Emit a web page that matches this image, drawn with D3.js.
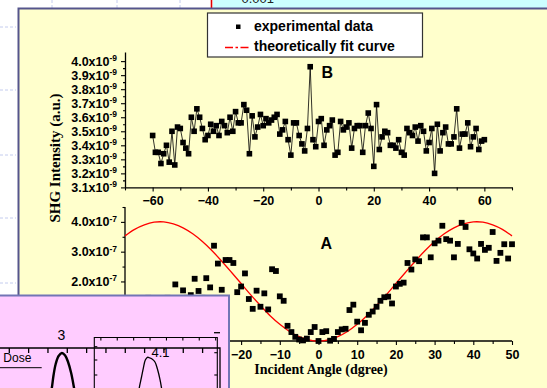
<!DOCTYPE html>
<html>
<head>
<meta charset="utf-8">
<script src="https://cdn.jsdelivr.net/npm/d3@7"></script>
<style>
  html, body { margin: 0; padding: 0; background: #fff; overflow: hidden; }
  svg { display: block; }
</style>
</head>
<body>
<svg id="chart" width="547" height="388"></svg>
<script>
// ---------- data ----------
// Panel B: SHG intensity (x1e-9 a.u.) vs incident angle, -60..60 deg
const anglesB = [-60,-59,-58,-57,-56,-55,-54,-53,-52,-51,-50,-49,-48,-47,-46,-45,-44,-43,-42,-41,
  -40,-39,-38,-37,-36,-35,-34,-33,-32,-31,-30,-29,-28,-27,-26,-25,-24,-23,-22,-21,
  -20,-19,-18,-17,-16,-15,-14,-13,-12,-11,-10,-9,-8,-7,-6,-5,-4,-3,-2,-1,
  0,1,2,3,4,5,6,7,8,9,10,11,12,13,14,15,16,17,18,19,
  20,21,22,23,24,25,26,27,28,29,30,31,32,33,34,35,36,37,38,39,
  40,41,42,43,44,45,46,47,48,49,50,51,52,53,54,55,56,57,58,59,60];
const shgB = [3.47,3.35,3.35,3.27,3.34,3.40,3.28,3.50,3.26,3.53,3.52,3.42,3.38,3.34,3.60,3.50,3.66,3.60,3.52,3.44,
  3.47,3.55,3.50,3.54,3.47,3.57,3.54,3.49,3.60,3.50,3.64,3.56,3.56,3.69,3.65,3.34,3.61,3.46,3.53,3.62,
  3.54,3.59,3.56,3.58,3.60,3.62,3.48,3.51,3.57,3.44,3.33,3.56,3.56,3.47,3.41,3.36,3.52,3.96,3.44,3.39,
  3.57,3.59,3.40,3.51,3.54,3.58,3.33,3.35,3.57,3.51,3.53,3.56,3.38,3.52,3.54,3.54,3.35,3.54,3.63,3.52,
  3.25,3.69,3.37,3.46,3.50,3.49,3.40,3.40,3.38,3.44,3.35,3.33,3.52,3.49,3.47,3.53,3.43,3.54,3.50,3.36,
  3.42,3.52,3.20,3.55,3.36,3.49,3.53,3.41,3.41,3.46,3.66,3.38,3.48,3.48,3.56,3.39,3.46,3.52,3.37,3.43,3.44];

// Panel A: SHG intensity (x1e-7 a.u.) vs incident angle, -50..50 deg
const anglesA = [-50,-49,-48,-47,-46,-45,-44,-43,-42,-41,-40,-39,-38,-37,-36,-35,-34,-33,-32,-31,
  -30,-29,-28,-27,-26,-25,-24,-23,-22,-21,-20,-19,-18,-17,-16,-15,-14,-13,-12,-11,
  -10,-9,-8,-7,-6,-5,-4,-3,-2,-1,0,1,2,3,4,5,6,7,8,9,
  10,11,12,13,14,15,16,17,18,19,20,21,22,23,24,25,26,27,28,29,
  30,31,32,33,34,35,36,37,38,39,40,41,42,43,44,45,46,47,48,49,50];
const shgA = [1.30,1.15,1.40,1.20,1.35,1.10,1.45,1.25,1.30,1.40,1.20,1.45,1.35,1.90,1.40,1.70,1.45,1.54,2.09,1.68,
  1.45,2.11,1.80,3.20,2.60,1.72,2.72,2.72,2.62,1.64,1.83,2.27,1.41,1.08,1.69,1.15,1.60,1.06,2.41,2.35,
  1.50,1.35,0.51,0.30,0.14,0.05,0.02,0.08,0.30,0.47,0.00,0.30,0.33,0.01,0.07,0.30,0.39,0.41,1.04,1.22,
  0.65,0.36,0.61,0.88,0.99,1.15,1.35,1.47,1.49,1.26,1.83,1.92,1.96,2.62,2.40,2.74,2.68,3.48,3.48,2.81,
  3.28,3.37,3.87,3.42,3.37,2.81,3.26,3.97,3.83,3.08,2.94,2.77,3.26,3.06,3.13,3.66,2.69,2.96,3.25,2.77,3.25];

// Theoretical fit for panel A (x1e-7)
const fitAngles = [-50,-47.5,-45,-42.5,-40,-37.5,-35,-32.5,-30,-27.5,-25,-22.5,-20,-17.5,-15,-12.5,-10,-7.5,-5,-2.5,
  0,2.5,5,7.5,10,12.5,15,17.5,20,22.5,25,27.5,30,32.5,35,37.5,40,42.5,45,47.5,50];
const fitA = [3.53,3.75,3.90,3.99,4.00,3.93,3.80,3.60,3.34,3.03,2.68,2.31,1.93,1.55,1.19,0.85,0.56,0.32,0.15,0.04,
  0.00,0.04,0.15,0.32,0.56,0.85,1.19,1.55,1.93,2.31,2.68,3.03,3.34,3.60,3.80,3.93,4.00,3.99,3.90,3.75,3.53];

// tick values
const majorBx = [-60,-40,-20,0,20,40,60];
const minorBx = [-70,-50,-30,-10,10,30,50,70];
const majorBy = [3.1,3.2,3.3,3.4,3.5,3.6,3.7,3.8,3.9,4.0];
const minorBy = [3.15,3.25,3.35,3.45,3.55,3.65,3.75,3.85,3.95];
const labelAx = [-20,-10,0,10,20,30,40,50];       // labelled ticks on panel A
const plainAx = [-50,-40,-30];                    // ticks whose labels sit under the dose panel
const minorAx = [-45,-35,-25,-15,-5,5,15,25,35,45];
const labelAy = [2,3,4];
const plainAy = [1];
const minorAy = [0.5,1.5,2.5,3.5,4.5];

const legendItems = ["experimental data", "theoretically fit curve"];

// dose spectra in the overlapping panel
const dose3U = [2.08,2.20,2.29,2.40,2.55,2.72,2.89,3.04,3.20,3.35,3.46];
const dose3V = [30,42,55,66,74,77,74.5,68,57,42,30];
const dose41U = [2.63,2.74,2.88,2.99,3.11,3.24,3.40,3.52,3.70,3.85,4.01,4.16];
const dose41V = [32.4,45.4,57.3,67.0,75.7,78.6,77.8,76.8,73.5,65.9,54.1,38.9];
const doseLabels = ["3", "4.1"];
const insetTopTicks = [0,1,2,3,4,5,6,7,8,9,10];
const innerTopTicks = [0.4,1.4,2.4,3.4,4.4,5.4,6.4,7.4];

// ---------- drawing ----------
const svg = d3.select("#chart");
const SANS = "'Liberation Sans', Arial, sans-serif";
const SERIF = "'Liberation Serif', 'Times New Roman', serif";
const TICK_FONT = 12.5;

svg.append("rect").attr("width", 547).attr("height", 388).attr("fill", "#fff");

// faint slide marks behind the panel
const faint = svg.append("g").attr("stroke", "#c4ccee").attr("stroke-width", 1).attr("stroke-dasharray", "3,2");
[27, 90, 155, 218, 283].forEach(y => faint.append("line").attr("x1", 0).attr("x2", 16).attr("y1", y).attr("y2", y));
[52, 117, 180].forEach(x => faint.append("line").attr("x1", x).attr("x2", x).attr("y1", 0).attr("y2", 8).attr("stroke-dasharray", null));

// cyan strip at the top right
svg.append("rect").attr("x", 213).attr("y", 0).attr("width", 334).attr("height", 9).attr("fill", "#ccffff");
svg.append("line").attr("x1", 211.5).attr("x2", 211.5).attr("y1", 0).attr("y2", 9).attr("stroke", "#e00000").attr("stroke-width", 1.6);
svg.append("text").attr("x", 241.5).attr("y", 3).attr("font-family", SANS).attr("font-size", 13).attr("fill", "#222").text("0.001");

// main yellow panel
svg.append("rect").attr("x", 18.5).attr("y", 8.5).attr("width", 560).attr("height", 420)
  .attr("fill", "#ffffcc").attr("stroke", "#55558c").attr("stroke-width", 2);

// scales
const xB = d3.scaleLinear().domain([-70, 70]).range([125, 512]);
const yB = d3.scaleLinear().domain([3.1, 4.065]).range([187.4, 52]);
const xA = d3.scaleLinear().domain([-50, 50]).range([125, 512]);
const yA = d3.scaleLinear().domain([0, 4.5]).range([341, 207]);

function styleAxis(g) {
  g.attr("font-family", SANS).attr("font-size", TICK_FONT).attr("font-weight", "bold");
  g.selectAll("path.domain").attr("stroke", "#000").attr("stroke-width", 1.3);
  g.selectAll(".tick line").attr("stroke", "#000").attr("stroke-width", 1.1);
  g.selectAll(".tick text").attr("fill", "#000");
}
function plainTicks(axis, ticks, len, tr) {
  const g = svg.append("g").attr("transform", tr)
    .call(axis.tickValues(ticks).tickSize(len).tickSizeOuter(0).tickFormat(""));
  g.select("path.domain").remove();
  g.selectAll(".tick text").remove();
  g.selectAll(".tick line").attr("stroke", "#000").attr("stroke-width", 1.1);
}
function superLabels(g, exp) {
  g.selectAll(".tick text").each(function(d) {
    const t = d3.select(this);
    t.text(null);
    t.append("tspan").text(d.toFixed(1) + "x10");
    t.append("tspan").attr("dy", -4.5).attr("font-size", 8.5).text(exp);
  });
}

// ---- Panel B ----
const gBx = svg.append("g").attr("transform", "translate(0,187.4)")
  .call(d3.axisBottom(xB).tickValues(majorBx).tickSize(4).tickSizeOuter(0).tickPadding(5).tickFormat(d3.format("d")));
styleAxis(gBx);
plainTicks(d3.axisBottom(xB), minorBx, 3, "translate(0,187.4)");

const gBy = svg.append("g").attr("transform", "translate(125,0)")
  .call(d3.axisLeft(yB).tickValues(majorBy).tickSize(4).tickSizeOuter(0).tickPadding(4));
styleAxis(gBy);
superLabels(gBy, "-9");
plainTicks(d3.axisLeft(yB), minorBy, 2, "translate(125,0)");

const ptsB = anglesB.map((a, i) => [a, shgB[i]]);
svg.append("path").datum(ptsB)
  .attr("d", d3.line().x(d => xB(d[0])).y(d => yB(d[1])))
  .attr("fill", "none").attr("stroke", "#000").attr("stroke-width", 0.8);
svg.append("g").selectAll("rect").data(ptsB).join("rect")
  .attr("x", d => xB(d[0]) - 2.8).attr("y", d => yB(d[1]) - 2.8)
  .attr("width", 5.6).attr("height", 5.6).attr("fill", "#000");

svg.append("text").attr("x", 321.5).attr("y", 78).attr("font-family", SANS)
  .attr("font-size", 16).attr("font-weight", "bold").text("B");

// ---- Panel A ----
const gAx = svg.append("g").attr("transform", "translate(0,341)")
  .call(d3.axisBottom(xA).tickValues(labelAx).tickSize(4).tickSizeOuter(0).tickPadding(5).tickFormat(d3.format("d")));
styleAxis(gAx);
gAx.select("path.domain").attr("d", `M${xA(-50)},0H${xA(50)}`);
plainTicks(d3.axisBottom(xA), plainAx, 4, "translate(0,341)");
plainTicks(d3.axisBottom(xA), minorAx, 3, "translate(0,341)");

const gAy = svg.append("g").attr("transform", "translate(125,0)")
  .call(d3.axisLeft(yA).tickValues(labelAy).tickSize(4).tickSizeOuter(0).tickPadding(4));
styleAxis(gAy);
gAy.select("path.domain").attr("d", `M0,${yA(4.5)}V${yA(0)}`);
superLabels(gAy, "-7");
plainTicks(d3.axisLeft(yA), plainAy, 4, "translate(125,0)");
plainTicks(d3.axisLeft(yA), minorAy, 2.5, "translate(125,0)");

const fitPts = fitAngles.map((a, i) => [a, fitA[i]]);
svg.append("path").datum(fitPts)
  .attr("d", d3.line().curve(d3.curveCatmullRom).x(d => xA(d[0])).y(d => yA(d[1])))
  .attr("fill", "none").attr("stroke", "#ff0000").attr("stroke-width", 1.3);

const ptsA = anglesA.map((a, i) => [a, shgA[i]]);
svg.append("g").selectAll("rect").data(ptsA).join("rect")
  .attr("x", d => xA(d[0]) - 2.9).attr("y", d => yA(d[1]) - 2.9)
  .attr("width", 5.8).attr("height", 5.8).attr("fill", "#000");

svg.append("text").attr("x", 320.5).attr("y", 249).attr("font-family", SANS)
  .attr("font-size", 16).attr("font-weight", "bold").text("A");

// axis titles
svg.append("text").attr("x", 321).attr("y", 374).attr("text-anchor", "middle")
  .attr("font-family", SERIF).attr("font-size", 14).attr("font-weight", "bold")
  .text("Incident Angle (dgree)");
svg.append("text").attr("transform", "translate(60,158) rotate(-90)").attr("text-anchor", "middle")
  .attr("font-family", SERIF).attr("font-size", 15).attr("font-weight", "bold")
  .text("SHG Intensity (a.u.)");

// ---- legend ----
const lg = svg.append("g");
lg.append("rect").attr("x", 207.5).attr("y", 13).attr("width", 215).attr("height", 44)
  .attr("fill", "#fff").attr("stroke", "#333").attr("stroke-width", 1.2);
lg.append("rect").attr("x", 236).attr("y", 24.5).attr("width", 4.5).attr("height", 4.5).attr("fill", "#000");
lg.append("path").attr("d", "M225,47.5H251")
  .attr("fill", "none").attr("stroke", "#ff0000").attr("stroke-width", 1.4).attr("stroke-dasharray", "8,2.5,2.5,2.5");
lg.selectAll("text").data(legendItems).join("text")
  .attr("x", 254).attr("y", (d, i) => 31 + i * 19.5)
  .attr("font-family", SANS).attr("font-size", 14).attr("font-weight", "bold").text(d => d);

// ---- overlapping dose panel (bottom left) ----
const ins = svg.append("g");
ins.append("rect").attr("x", -5).attr("y", 295.5).attr("width", 234).attr("height", 100)
  .attr("fill", "#ffccff").attr("stroke", "#7275b5").attr("stroke-width", 2);

const ix = d3.scaleLinear().domain([0, 10.9]).range([9.3, 220]);
const iy = d3.scaleLinear().domain([0, 100]).range([430, 330]);
const jx = d3.scaleLinear().domain([0, 7.5]).range([94.3, 217.3]);
const jy = d3.scaleLinear().domain([0, 100]).range([430, 337.5]);

const frame = ins.append("g").attr("stroke", "#000").attr("stroke-width", 1.3).attr("fill", "none");
frame.append("path").attr("d", `M-5,${iy(82)}H${ix(10.9)}V400`);
frame.selectAll("line.t").data(insetTopTicks).join("line")
  .attr("x1", d => ix(d)).attr("x2", d => ix(d)).attr("y1", iy(82)).attr("y2", iy(82) + 5);
frame.append("line").attr("x1", ix(10.9) - 6).attr("x2", ix(10.9)).attr("y1", 332.7).attr("y2", 332.7);

const inner = ins.append("g").attr("stroke", "#000").attr("stroke-width", 1.1).attr("fill", "none");
inner.append("path").attr("d", `M${jx(0)},400V${jy(100)}H${jx(7.5)}V400`);
inner.selectAll("line.t").data(innerTopTicks).join("line")
  .attr("x1", d => jx(d)).attr("x2", d => jx(d)).attr("y1", jy(100)).attr("y2", jy(100) + 3);
[346.7, 360, 375].forEach(y => inner.append("line").attr("x1", jx(0)).attr("x2", jx(0) + 3).attr("y1", y).attr("y2", y));
[352.7, 375].forEach(y => inner.append("line").attr("x1", jx(7.5) - 3).attr("x2", jx(7.5)).attr("y1", y).attr("y2", y));

ins.append("path").datum(dose3U.map((u, i) => [u, dose3V[i]]))
  .attr("d", d3.line().curve(d3.curveCatmullRom).x(d => ix(d[0])).y(d => iy(d[1])))
  .attr("fill", "none").attr("stroke", "#000").attr("stroke-width", 2.4);
ins.append("path").datum(dose41U.map((u, i) => [u, dose41V[i]]))
  .attr("d", d3.line().curve(d3.curveCatmullRom).x(d => jx(d[0])).y(d => jy(d[1])))
  .attr("fill", "none").attr("stroke", "#000").attr("stroke-width", 1.3);

ins.append("text").attr("x", 61.3).attr("y", 340).attr("text-anchor", "middle")
  .attr("font-family", SANS).attr("font-size", 14).text(doseLabels[0]);
ins.append("text").attr("x", 151.5).attr("y", 357.3)
  .attr("font-family", SANS).attr("font-size", 13).text(doseLabels[1]);
ins.append("text").attr("x", 3.3).attr("y", 361.5)
  .attr("font-family", SANS).attr("font-size", 12).text("Dose");
ins.append("line").attr("x1", -2).attr("x2", 41.7).attr("y1", 367.7).attr("y2", 367.7)
  .attr("stroke", "#000").attr("stroke-width", 1);
</script>
</body>
</html>
